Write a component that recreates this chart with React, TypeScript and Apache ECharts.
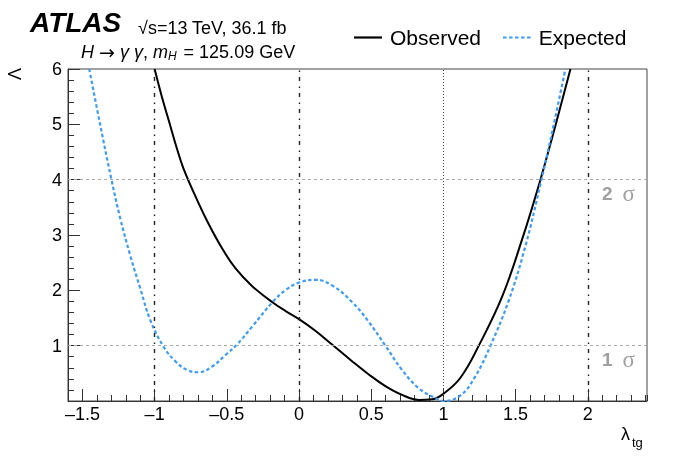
import React, { useEffect, useRef } from "react";
import * as echarts from "echarts";

const obsX = [-1.0, -0.95, -0.9, -0.85, -0.8, -0.7, -0.626, -0.533, -0.441, -0.326, -0.182, -0.095, 0.0, 0.113, 0.229, 0.367, 0.483, 0.598, 0.714, 0.829, 0.921, 1.0, 1.118, 1.245, 1.406, 1.545, 1.672, 1.776, 1.88];
const obsY = [6.0, 5.5, 5.05, 4.6, 4.2, 3.6, 3.2, 2.76, 2.4, 2.08, 1.78, 1.63, 1.48, 1.27, 1.02, 0.72, 0.48, 0.27, 0.11, 0.02, 0.03, 0.13, 0.42, 1.0, 1.88, 2.92, 4.0, 4.98, 6.0];

const expX = [-1.453, -1.376, -1.303, -1.238, -1.169, -1.099, -1.03, -0.938, -0.857, -0.776, -0.695, -0.603, -0.51, -0.43, -0.326, -0.182, -0.095, 0.0, 0.113, 0.229, 0.367, 0.483, 0.598, 0.714, 0.829, 0.945, 1.0, 1.118, 1.222, 1.326, 1.453, 1.568, 1.672, 1.753, 1.845];
const expY = [6.0, 4.98, 4.05, 3.3, 2.63, 2.03, 1.46, 0.98, 0.72, 0.56, 0.52, 0.62, 0.83, 1.02, 1.34, 1.79, 2.0, 2.14, 2.19, 2.09, 1.79, 1.43, 1.0, 0.56, 0.23, 0.05, 0.0, 0.1, 0.45, 1.0, 1.82, 2.8, 3.92, 4.86, 6.0];

const xMajorTicks = [-1.5, -1, -0.5, 0, 0.5, 1, 1.5, 2];
const yTickLabels = ["", "1", "2", "3", "4", "5", "6"];
const vDashLines = [-1, 0, 2];
const vDotLines = [1];
const sigmaLevels = [1, 4];
const sigmaNames = ["1", "2"];
const seriesNames = ["Observed", "Expected"];

const SANS = "'Liberation Sans', Arial, Helvetica, sans-serif";
const SERIF = "'Liberation Serif', 'Times New Roman', serif";

const solidIcon = "path://M0 0h28v2.2h-28z";
const dashIcon =
  "path://M0 0h3.5v2.2h-3.5z M6 0h3.5v2.2h-3.5z M12 0h3.5v2.2h-3.5z M18 0h3.5v2.2h-3.5z M24 0h3.5v2.2h-3.5z";

export default function App() {
  const ref = useRef<HTMLDivElement>(null);
  useEffect(() => {
    document.body.style.margin = "0";
    const chart = echarts.init(ref.current!, null, { renderer: "svg" });
    const axisColor = "#333";
    const fmt = (v: number) => {
      const s = String(Math.round(v * 10) / 10);
      return s.replace("-", "\u2013");
    };
    const markLineData: any[] = [];
    vDashLines.forEach((v) =>
      markLineData.push({
        xAxis: v,
        lineStyle: { color: "#222", width: 1.4, type: [4, 5, 1.5, 5.5] },
        label: { show: false },
      })
    );
    vDotLines.forEach((v) =>
      markLineData.push({
        xAxis: v,
        lineStyle: { color: "#444", width: 1, type: [1, 2] },
        label: { show: false },
      })
    );
    sigmaLevels.forEach((v, i) =>
      markLineData.push({
        yAxis: v,
        lineStyle: { color: "#aaaaaa", width: 1, type: [3, 3] },
        label: {
          show: true,
          position: "insideEndBottom",
          distance: [12, 2],
          formatter: "{b|" + sigmaNames[i] + "}{s|\u03c3}",
          rich: {
            b: { fontFamily: SANS, fontWeight: "bold", fontSize: 19, color: "#a0a0a0" },
            s: { fontFamily: SERIF, fontSize: 23, color: "#a0a0a0", padding: [0, 0, 0, 10] },
          },
        },
      })
    );

    chart.setOption({
      animation: false,
      grid: {
        left: 68,
        right: 34,
        top: 69,
        bottom: 61,
        show: true,
        borderColor: "#444",
        borderWidth: 1,
        backgroundColor: "transparent",
      },
      legend: {
        data: [
          { name: seriesNames[0], icon: solidIcon },
          { name: seriesNames[1], icon: dashIcon },
        ],
        left: 354,
        top: 27,
        padding: 0,
        itemWidth: 28,
        itemHeight: 2.2,
        itemGap: 22,
        textStyle: { fontFamily: SANS, fontSize: 21, color: "#000", padding: [0, 0, 0, 3] },
      },
      xAxis: [
        {
          type: "value",
          min: -1.6,
          max: 2.41,
          interval: 0.1,
          axisLine: { show: true, onZero: false, lineStyle: { color: axisColor, width: 1 } },
          axisTick: { show: true, inside: true, length: 6, lineStyle: { color: axisColor } },
          axisLabel: { show: false },
          splitLine: { show: false },
        },
        {
          type: "value",
          min: -1.6,
          max: 2.41,
          position: "bottom",
          axisLine: { show: false, onZero: false },
          axisTick: {
            show: true,
            inside: true,
            length: 12,
            customValues: xMajorTicks,
            lineStyle: { color: axisColor },
          },
          axisLabel: {
            show: true,
            customValues: xMajorTicks,
            formatter: fmt,
            fontFamily: SANS,
            fontSize: 18,
            color: "#000",
            margin: 4,
          },
          splitLine: { show: false },
        },
      ],
      yAxis: {
        type: "value",
        min: 0,
        max: 6,
        interval: 1,
        axisLine: { show: true, onZero: false, lineStyle: { color: axisColor, width: 1 } },
        axisTick: { show: true, inside: true, length: 12, lineStyle: { color: axisColor } },
        minorTick: { show: true, splitNumber: 5, length: 6, lineStyle: { color: axisColor } },
        axisLabel: {
          formatter: (v: number) => yTickLabels[Math.round(v)] ?? "",
          fontFamily: SANS,
          fontSize: 18,
          color: "#000",
          margin: 6,
        },
        splitLine: { show: false },
      },
      series: [
        {
          name: seriesNames[0],
          type: "line",
          data: obsX.map((x, i) => [x, obsY[i]]),
          symbol: "none",
          smooth: 0.4,
          clip: true,
          color: "#000",
          lineStyle: { color: "#000", width: 2 },
          z: 3,
          markLine: {
            silent: true,
            symbol: ["none", "none"],
            animation: false,
            data: markLineData,
          },
        },
        {
          name: seriesNames[1],
          type: "line",
          data: expX.map((x, i) => [x, expY[i]]),
          symbol: "none",
          smooth: 0.4,
          clip: true,
          color: "#3d9cf6",
          lineStyle: { color: "#3d9cf6", width: 2.2, type: [3.5, 2.5] },
          z: 4,
        },
      ],
      graphic: [
        {
          type: "text",
          x: 30,
          y: 22.5,
          style: {
            text: "ATLAS",
            font: "italic bold 28px " + SANS,
            fill: "#000",
            verticalAlign: "middle",
          },
        },
        {
          type: "text",
          x: 138,
          y: 27.5,
          style: {
            text: "\u221as=13 TeV, 36.1 fb",
            fontFamily: SANS,
            fontSize: 18,
            fill: "#000",
            verticalAlign: "middle",
          },
        },
        {
          type: "text",
          x: 81,
          y: 52,
          style: {
            text: "{i|H} {a|\u2192} {i|\u03b3 \u03b3}, {i|m}{s|H} = 125.09 GeV",
            fontFamily: SANS,
            fontSize: 18,
            fill: "#000",
            verticalAlign: "middle",
            rich: {
              i: { fontFamily: SANS, fontStyle: "italic", fontSize: 18 },
              a: { fontFamily: "'DejaVu Sans', sans-serif", fontSize: 19 },
              s: { fontFamily: SANS, fontStyle: "italic", fontSize: 12, padding: [8, 2, 0, 0] },
            },
          },
        },
        {
          type: "text",
          x: 15,
          y: 74,
          rotation: Math.PI / 2,
          style: {
            text: "\u039b",
            fontFamily: SANS,
            fontSize: 18,
            fill: "#000",
            align: "center",
            verticalAlign: "middle",
          },
        },
        {
          type: "text",
          x: 621,
          y: 434,
          style: {
            text: "\u03bb",
            fontFamily: SANS,
            fontSize: 18,
            fill: "#000",
            verticalAlign: "middle",
          },
        },
        {
          type: "text",
          x: 632,
          y: 442,
          style: {
            text: "tg",
            fontFamily: SANS,
            fontSize: 13,
            fill: "#000",
            verticalAlign: "middle",
          },
        },
      ],
    });
    return () => chart.dispose();
  }, []);
  return (
    <div
      ref={ref}
      style={{ position: "fixed", left: 0, top: 0, width: 681, height: 462 }}
    />
  );
}
